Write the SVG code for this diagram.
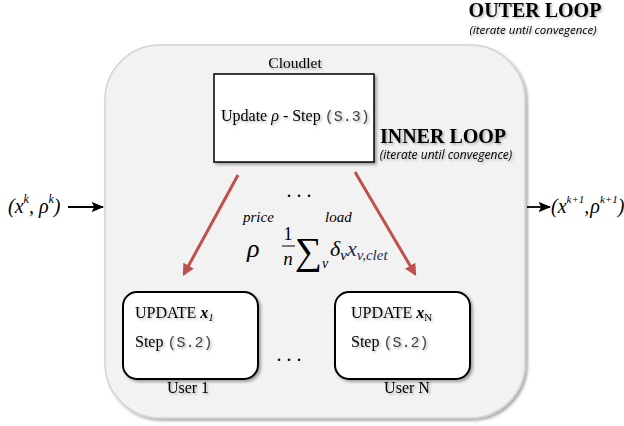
<svg xmlns="http://www.w3.org/2000/svg" width="624" height="426" viewBox="0 0 624 426">
<defs>
<filter id="sh" x="-10%" y="-10%" width="130%" height="130%">
<feDropShadow dx="2" dy="2" stdDeviation="1.5" flood-color="#000" flood-opacity="0.35"/>
</filter>
<filter id="tsh" x="-10%" y="-20%" width="130%" height="150%">
<feDropShadow dx="1.5" dy="1.5" stdDeviation="1" flood-color="#000" flood-opacity="0.3"/>
</filter>
<marker id="ah" viewBox="0 0 10 10" refX="8" refY="5" markerWidth="4" markerHeight="4" orient="auto">
<path d="M0,0 L10,5 L0,10 z" fill="#c0504d"/>
</marker>
<marker id="bh" viewBox="0 0 10 10" refX="9" refY="5" markerWidth="7" markerHeight="7" orient="auto">
<path d="M0,1 L10,5 L0,9 L2,5 z" fill="#000"/>
</marker>
</defs>
<style>
.serif{font-family:"Liberation Serif","Times New Roman",serif;fill:#000}
.mono{font-family:"Liberation Mono","Courier New",monospace;fill:#444}
.it{font-style:italic}
.cal{font-family:"Open Sans","Liberation Sans",sans-serif;font-style:italic;fill:#000}
.red{stroke:#c0504d;stroke-width:3;fill:none}
</style>

<g id="outer-loop">
<rect x="105" y="45" width="420" height="373" rx="55" fill="#f2f2f2" stroke="#d4d4d4" stroke-width="1.5" filter="url(#sh)"/>
<text class="serif" x="535" y="17" text-anchor="middle" font-size="20" font-weight="bold" filter="url(#tsh)">OUTER LOOP</text>
<text class="cal" x="533" y="34" text-anchor="middle" font-size="11.5" filter="url(#tsh)">(iterate until convegence)</text>
</g>

<g id="inner-loop-label">
<text class="serif" x="443" y="143" text-anchor="middle" font-size="20" font-weight="bold" filter="url(#tsh)">INNER LOOP</text>
<text class="cal" x="446" y="159" text-anchor="middle" font-size="12" filter="url(#tsh)">(iterate until convegence)</text>
</g>

<g id="cloudlet">
<text class="serif" x="295" y="68" text-anchor="middle" font-size="15.5" filter="url(#tsh)">Cloudlet</text>
<rect x="214" y="74" width="160" height="88" fill="#fff" stroke="#000" stroke-width="1.5" filter="url(#sh)"/>
<text class="serif" x="221" y="121" font-size="16" filter="url(#tsh)">Update <tspan class="it">ρ</tspan> - Step <tspan class="mono" font-size="15">(S.3)</tspan></text>
</g>

<g id="user1">
<rect x="123" y="292" width="135" height="87" rx="14" fill="#fff" stroke="#000" stroke-width="2" filter="url(#sh)"/>
<text class="serif" x="135" y="318" font-size="16" filter="url(#tsh)">UPDATE <tspan font-weight="bold" font-style="italic">x</tspan><tspan font-style="italic" font-size="11" dy="3">1</tspan></text>
<text class="serif" x="135" y="347" font-size="16" filter="url(#tsh)">Step <tspan class="mono" font-size="15">(S.2)</tspan></text>
<text class="serif" x="188" y="393" text-anchor="middle" font-size="16" filter="url(#tsh)">User 1</text>
</g>

<g id="userN">
<rect x="335" y="292" width="135" height="87" rx="14" fill="#fff" stroke="#000" stroke-width="2" filter="url(#sh)"/>
<text class="serif" x="351" y="318" font-size="16" filter="url(#tsh)">UPDATE <tspan font-weight="bold" font-style="italic">x</tspan><tspan font-size="11" dy="3">N</tspan></text>
<text class="serif" x="351" y="347" font-size="16" filter="url(#tsh)">Step <tspan class="mono" font-size="15">(S.2)</tspan></text>
<text class="serif" x="407" y="393" text-anchor="middle" font-size="16" filter="url(#tsh)">User N</text>
</g>

<g id="dots">
<text class="serif" x="299" y="197" text-anchor="middle" font-size="20">. . .</text>
<text class="serif" x="289" y="361" text-anchor="middle" font-size="20">. . .</text>
</g>

<g id="formula">
<text class="serif it" x="243" y="222" font-size="15">price</text>
<text class="serif it" x="325" y="222" font-size="15">load</text>
<text class="serif it" x="247" y="257" font-size="26">ρ</text>
<text class="serif" x="288" y="240" text-anchor="middle" font-size="18">1</text>
<line x1="282" y1="246" x2="295" y2="246" stroke="#000" stroke-width="1"/>
<text class="serif it" x="288" y="265" text-anchor="middle" font-size="19">n</text>
<text class="serif" x="295" y="264" font-size="38">∑</text>
<text class="serif it" x="322" y="268" font-size="14">v</text>
<text class="serif it" x="330" y="256" font-size="22">δ<tspan font-size="15" dy="4">v</tspan><tspan dy="-4" fill="#1f2d50">x</tspan><tspan font-size="15" dy="4" fill="#1f2d50">v,clet</tspan></text>
</g>

<g id="connectors">
<line class="red" x1="238" y1="175" x2="184" y2="274" marker-end="url(#ah)"/>
<line class="red" x1="355" y1="172" x2="415" y2="274" marker-end="url(#ah)"/>
<line x1="68" y1="207" x2="103" y2="207" stroke="#000" stroke-width="1.8" marker-end="url(#bh)"/>
<line x1="527" y1="207" x2="550" y2="207" stroke="#000" stroke-width="1.8" marker-end="url(#bh)"/>
</g>

<g id="io-labels">
<text class="serif it" x="8" y="213" font-size="20">(x<tspan font-size="12" dy="-10">k</tspan><tspan dy="10">, ρ</tspan><tspan font-size="12" dy="-10">k</tspan><tspan dy="10">)</tspan></text>
<text class="serif it" x="551" y="213" font-size="20">(x<tspan font-size="11" dy="-10">k+1</tspan><tspan dy="10">,</tspan><tspan dx="1">ρ</tspan><tspan font-size="11" dy="-10">k+1</tspan><tspan dy="10">)</tspan></text>
</g>
</svg>
